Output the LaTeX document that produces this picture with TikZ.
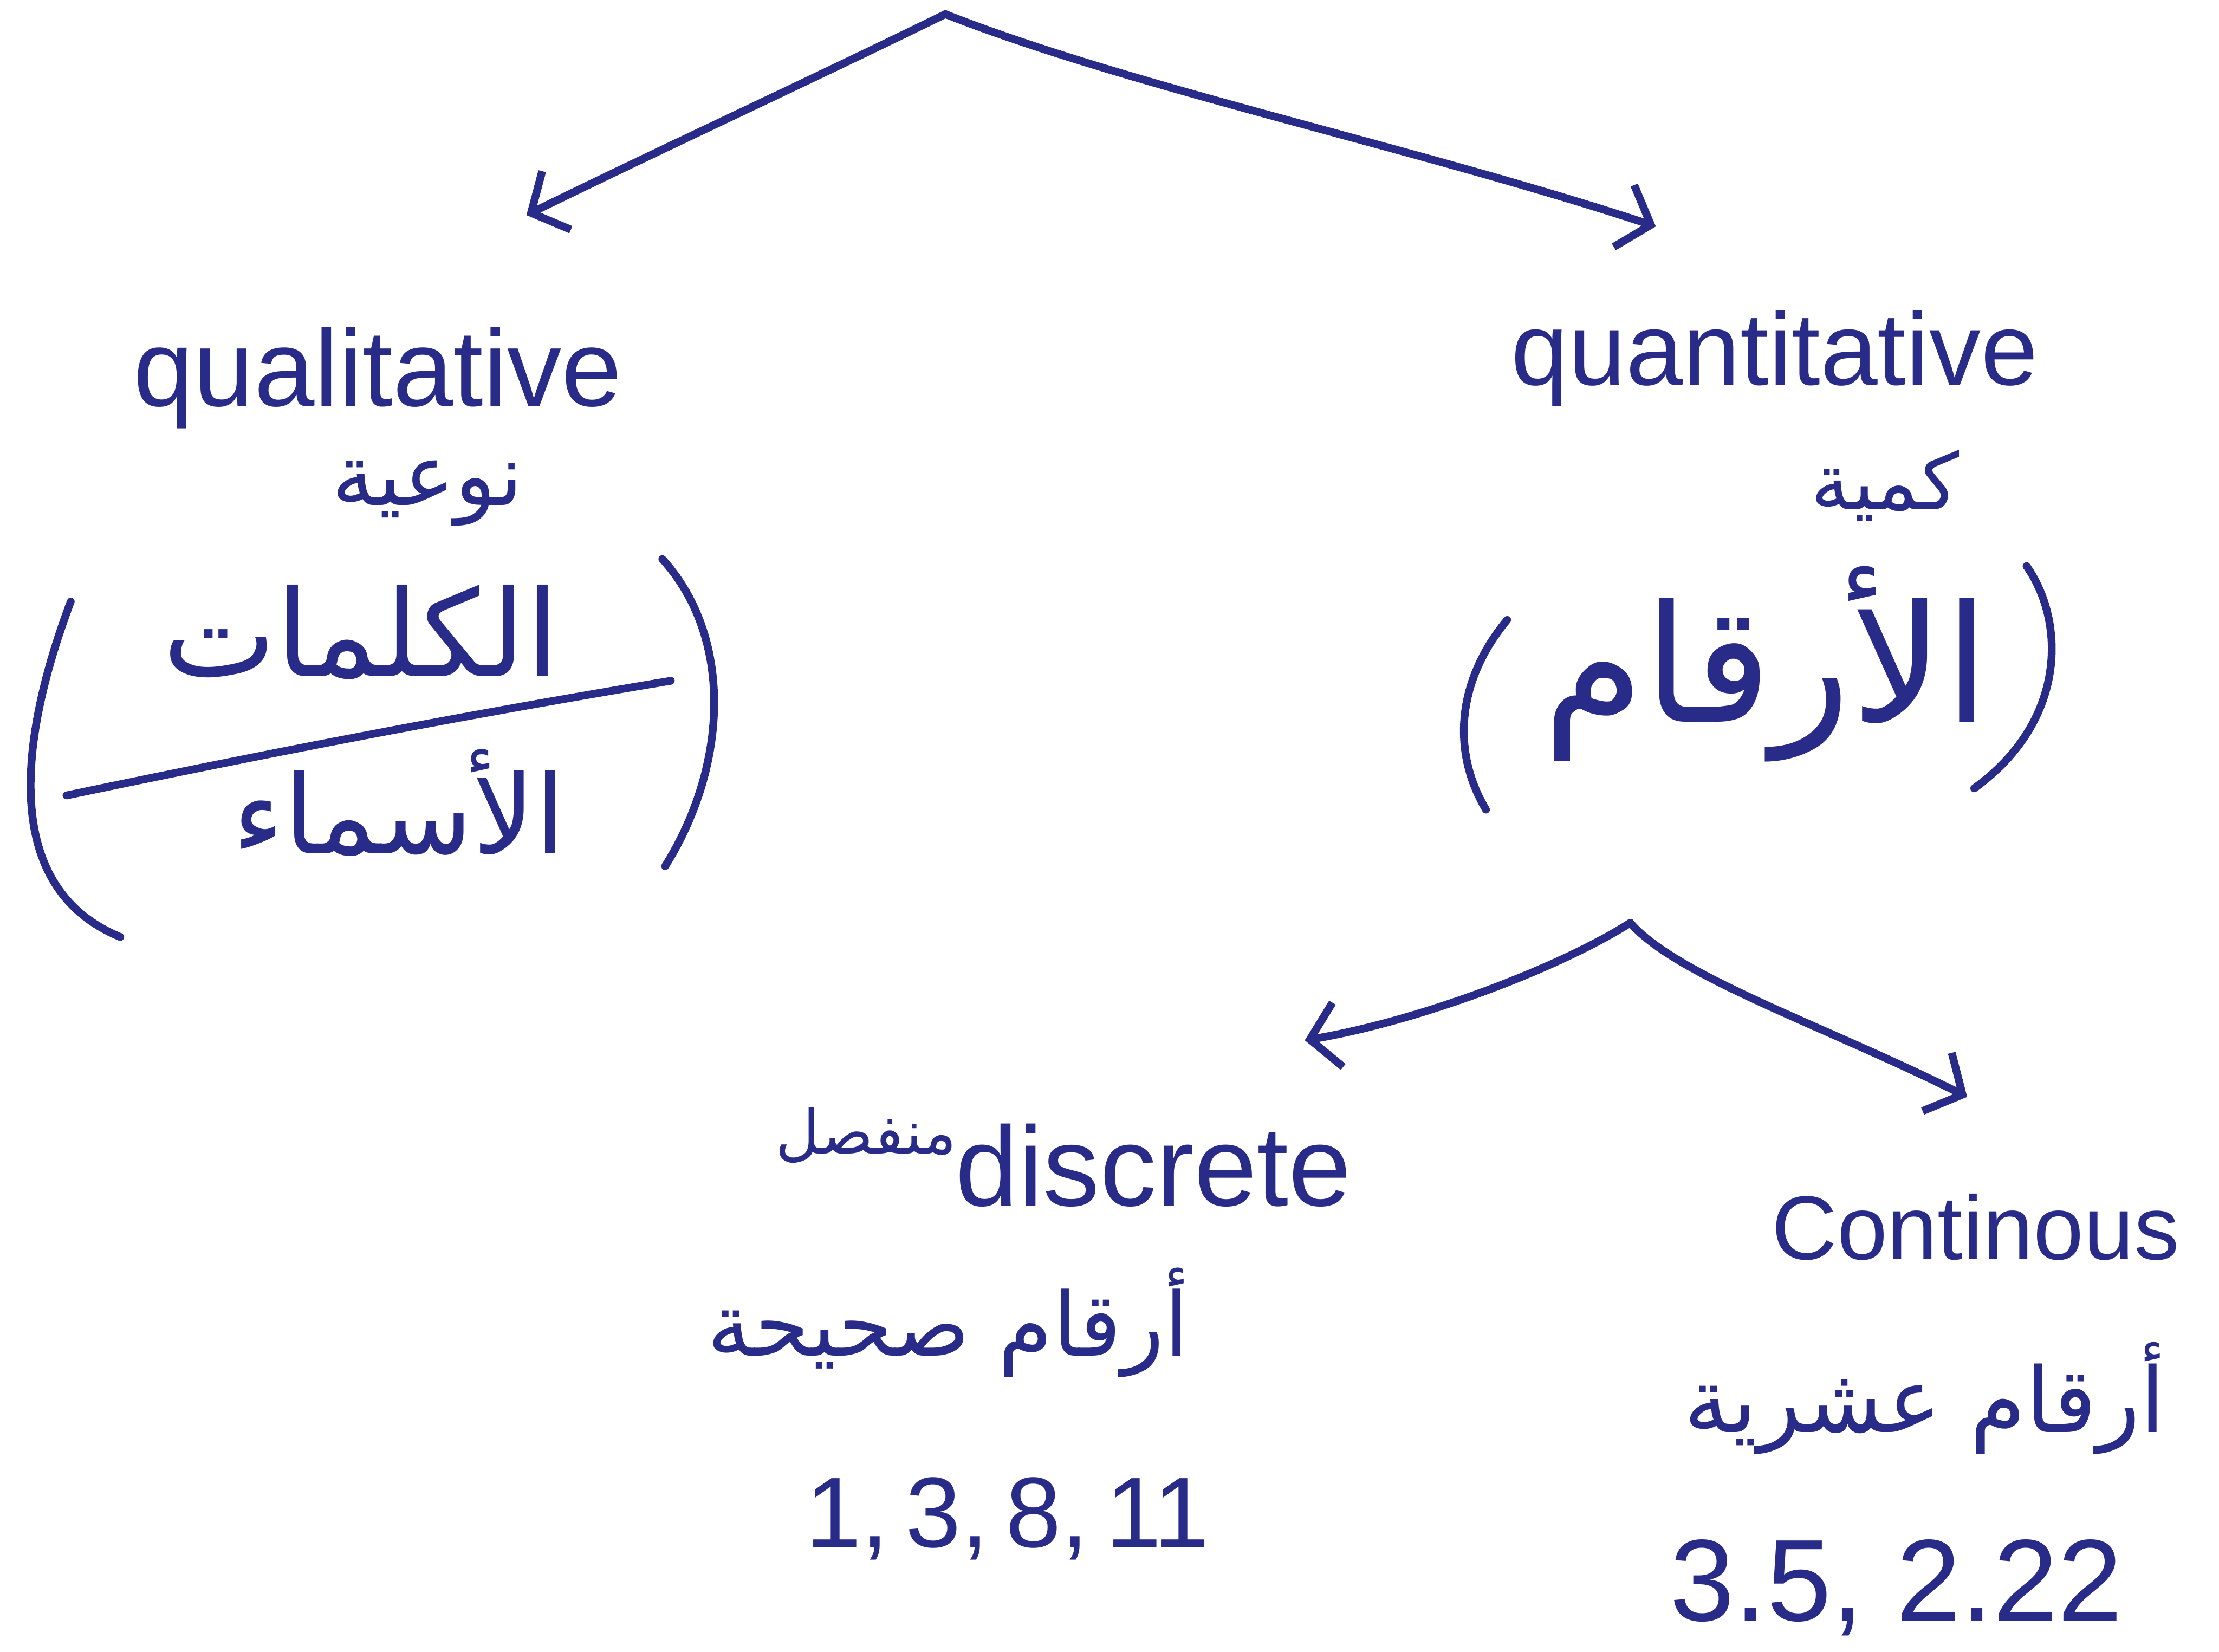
\documentclass[tikz,border=0pt]{standalone}
\usepackage{fontspec}
\usepackage{graphicx}
\usetikzlibrary{arrows.meta}
\setmainfont{Liberation Sans}
\newfontfamily\arabicfont[Script=Arabic]{DejaVu Sans}
\TeXXeTstate=1
\definecolor{ink}{RGB}{40,43,135}

% text scaled to a given width
\newcommand{\fitw}[2]{\resizebox{#1}{!}{#2}}
% right-to-left Arabic run
\newcommand{\artext}[1]{{\arabicfont\beginR #1\endR}}

\tikzset{
  pen/.style={draw=ink, line width=5.5pt, line cap=round, line join=round},
  arr/.style={pen, -{Straight Barb[length=20pt,width=46pt,line width=5.5pt]}},
  lbl/.style={text=ink, inner sep=0pt, anchor=base},
}

\begin{document}
\begin{tikzpicture}[x=1pt,y=-1pt]
  \fill[white] (0,0) rectangle (1568,1167);
  \useasboundingbox (0,0) rectangle (1568,1167);

  % branch points and arrow ends
  \coordinate (top)   at (668,10);
  \coordinate (qlarr) at (372,152);
  \coordinate (qnarr) at (1170,160);
  \coordinate (fork)  at (1152,652);
  \coordinate (darr)  at (922,735);
  \coordinate (carr)  at (1390,775);

  % qualitative side
  \node[lbl] (qual)  at (267,287) {\fitw{345pt}{qualitative}};
  \node[lbl] (qualar) at (302,357) {\fitw{135pt}{\artext{نوعية}}};
  \node[lbl] (words) at (255,478) {\fitw{280pt}{\artext{الكلمات}}};
  \node[lbl] (names) at (282,603) {\fitw{235pt}{\artext{الأسماء}}};

  % quantitative side
  \node[lbl] (quant)  at (1254,272) {\fitw{372pt}{quantitative}};
  \node[lbl] (quantar) at (1332,360) {\fitw{105pt}{\artext{كمية}}};
  \node[lbl] (nums)   at (1248,510) {\fitw{315pt}{\artext{الأرقام}}};

  % discrete
  \node[lbl] (discar) at (612,815) {\fitw{128pt}{\artext{منفصل}}};
  \node[lbl] (disc)   at (815,852) {\fitw{280pt}{discrete}};
  \node[lbl] (discdesc) at (670,958) {\fitw{340pt}{\artext{أرقام صحيحة}}};
  \node[lbl] (discex) at (712,1093) {\fitw{285pt}{1,\,3,\,8,\,11}};

  % continuous
  \node[lbl] (cont)     at (1396,890) {\fitw{288pt}{Continous}};
  \node[lbl] (contdesc) at (1360,1012) {\fitw{340pt}{\artext{أرقام عشرية}}};
  \node[lbl] (contex)   at (1340,1145) {\fitw{320pt}{3.5, 2.22}};

  % brackets around the examples
  \draw[pen] (50,425) .. controls (18,510) and (-5,625) .. (85,662);
  \draw[pen] (468,395) .. controls (518,450) and (515,540) .. (470,612);
  \draw[pen] (47,562) .. controls (200,530) and (330,505) .. (474,481);
  \draw[pen] (1065,438) .. controls (1030,480) and (1025,530) .. (1050,572);
  \draw[pen] (1432,400) .. controls (1460,440) and (1460,510) .. (1395,557);

  % connectors
  \draw[arr] (top) .. controls (570,58) and (470,104) .. (qlarr);
  \draw[arr] (top) .. controls (800,62) and (1000,104) .. (qnarr);
  \draw[arr] (fork) .. controls (1100,685) and (1000,722) .. (darr);
  \draw[arr] (fork) .. controls (1185,690) and (1290,725) .. (carr);
\end{tikzpicture}
\end{document}
